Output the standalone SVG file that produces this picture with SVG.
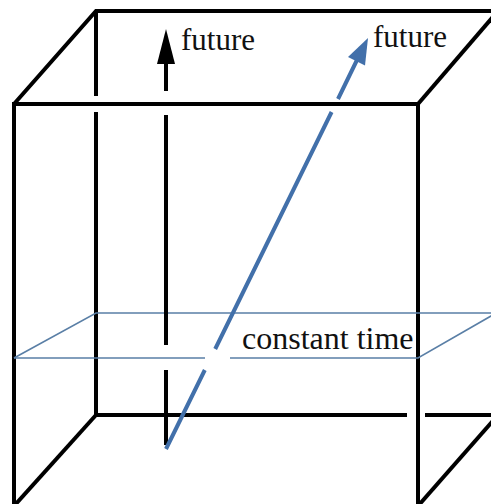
<svg xmlns="http://www.w3.org/2000/svg" width="491" height="504" viewBox="0 0 491 504">
<style>
.edge{stroke:#000;stroke-width:4;fill:none;stroke-linejoin:miter}
.plane{stroke:#5a7fa6;stroke-width:1.6;fill:none}
.tarrow{stroke:#000;stroke-width:4;fill:none}
.barrow{stroke:#4270aa;stroke-width:4;fill:none}
.lbl{font-family:"Liberation Serif","Times New Roman",serif;font-size:31px;fill:#111}
</style>
<rect width="491" height="504" fill="#fff"/>
<g id="cube">
<path class="edge" d="M14,506 L14,104 L418,104 L418,506"/>
<path class="edge" d="M14,104 L96,11 L500,11"/>
<path class="edge" d="M418,104 L498,11"/>
<path class="edge" d="M96,11 L96,96 M96,112 L96,415 L407,415 M425,415 L500,415"/>
<path class="edge" d="M96,415 L14,506"/>
<path class="edge" d="M498,415 L418,506"/>
</g>
<g id="plane">
<path class="plane" d="M14,358 L96,313 L500,313"/>
<path class="plane" d="M14,358 L205,358 M230,358 L418,358 L498,312"/>
</g>
<g id="connectors">
<g id="time-arrow">
<path class="tarrow" d="M166,62 L166,91 M166,115 L166,345 M166,370 L166,445"/>
<polygon points="166,29 157,64 175,64" fill="#000"/>
</g>
<g id="moving-arrow">
<path class="barrow" d="M166,449 L204.8,370 M215.2,349 L331.6,112 M338,99 L357,60"/>
<polygon points="368,38 348,57 365,65.5" fill="#4270aa"/>
</g>
</g>
<g id="labels">
<text class="lbl" x="181" y="50">future</text>
<text class="lbl" x="373" y="47">future</text>
<text class="lbl" x="242" y="349" style="font-size:32px">constant time</text>
</g>
</svg>
